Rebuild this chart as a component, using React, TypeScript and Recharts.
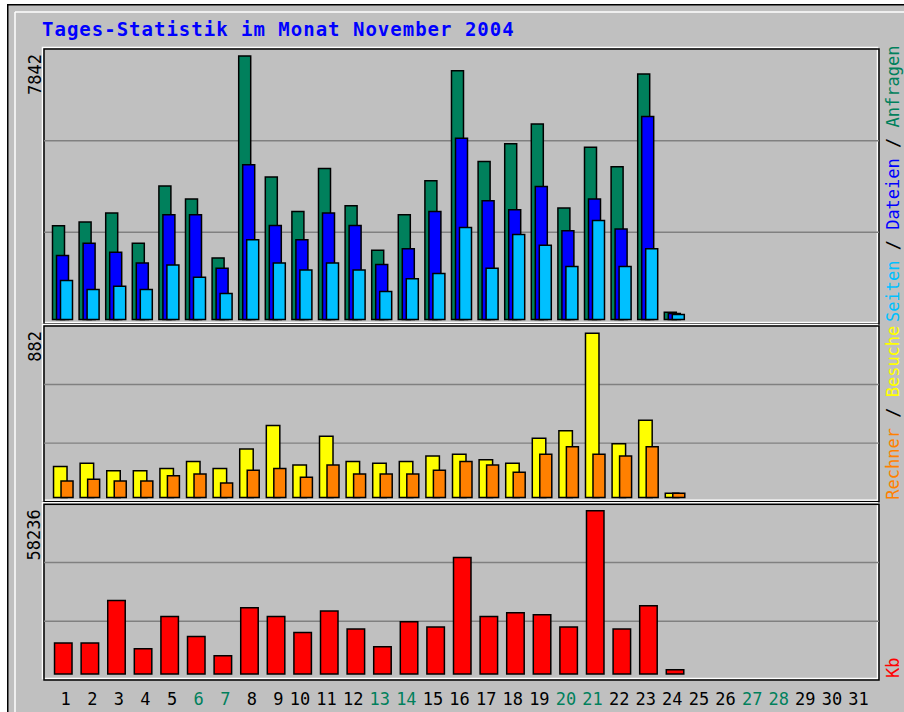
import React from 'react';
import { BarChart, Bar, XAxis, YAxis, CartesianGrid } from 'recharts';

// ---------- data ----------
const days = ['1','2','3','4','5','6','7','8','9','10','11','12','13','14','15','16','17','18','19','20','21','22','23','24','25','26','27','28','29','30','31'];
const weekendDays = ['6','7','13','14','20','21','27','28'];

const anfragen = [2792, 2902, 3169, 2266, 3971, 3585, 1833, 7842, 4238, 3217, 4494, 3386, 2058, 3119, 4128, 7404, 4702, 5227, 5821, 3318, 5129, 4544, 7306, 217];
const dateien = [1901, 2266, 1999, 1684, 3119, 3119, 1524, 4604, 2801, 2376, 3169, 2801, 1634, 2109, 3217, 5396, 3534, 3267, 3959, 2643, 3585, 2694, 6038, 178];
const seiten = [1158, 891, 989, 891, 1625, 1256, 772, 2376, 1684, 1476, 1684, 1476, 832, 1209, 1366, 2741, 1524, 2533, 2207, 1574, 2949, 1574, 2109, 149];
const besuche = [166, 184, 144, 144, 155, 193, 155, 261, 386, 175, 329, 193, 184, 193, 223, 232, 203, 184, 318, 358, 882, 289, 415, 23];
const rechner = [89, 98, 89, 89, 117, 126, 78, 146, 155, 109, 175, 126, 126, 126, 146, 193, 175, 136, 232, 272, 232, 223, 272, 23];
const kb = [11055, 11055, 26246, 9022, 20540, 13408, 6526, 23643, 20540, 14835, 22466, 16047, 9735, 18650, 16760, 41580, 20540, 21860, 21147, 16760, 58236, 16047, 24356, 1533];

const title = 'Tages-Statistik im Monat November 2004';

// ---------- styling / layout config ----------
const C = {
  bg: '#C0C0C0',
  anfragen: '#00805C',
  dateien: '#0000FF',
  seiten: '#00C0FF',
  besuche: '#FFFF00',
  rechner: '#FF8000',
  kb: '#FF0000',
  grid: '#808080',
  title: '#0000FF',
};
const MONO = '"DejaVu Sans Mono", "Liberation Mono", monospace';
const FRAME_L = 44;
const FRAME_W = 835;
const P1 = { top: 49, h: 275, domain: [-134, 8050] };
const P2 = { top: 326, h: 175.7, domain: [-22.6, 921] };
const P3 = { top: 504.3, h: 175.7, domain: [-2033, 60625] };
const X_PAD = { left: 5.5, right: 4.9 };

const table = days.map((d, i) => ({
  day: d,
  anfragen: i < anfragen.length ? anfragen[i] : null,
  dateien: i < dateien.length ? dateien[i] : null,
  seiten: i < seiten.length ? seiten[i] : null,
  besuche: i < besuche.length ? besuche[i] : null,
  rechner: i < rechner.length ? rechner[i] : null,
  kb: i < kb.length ? kb[i] : null,
}));

const max1 = Math.max(...anfragen);
const max2 = Math.max(...besuche);
const max3 = Math.max(...kb);

const thirds = (props: any) => {
  const o = props.offset;
  return [o.top + o.height / 3, o.top + (2 * o.height) / 3];
};

const DayTick = (props: any) => {
  const { x, y, payload } = props;
  const weekend = weekendDays.includes(payload.value);
  return (
    <text
      x={x + 8}
      y={y + 17}
      textAnchor="end"
      fontFamily={MONO}
      fontSize={17}
      fill={weekend ? C.anfragen : '#000'}
    >
      {payload.value}
    </text>
  );
};

const Frame = ({ top, h }: { top: number; h: number }) => (
  <g>
    <rect x={FRAME_L - 1.5} y={top - 1.5} width={FRAME_W} height={h} fill="none" stroke="#FFFFFF" strokeWidth={1.5} />
    <rect x={FRAME_L} y={top} width={FRAME_W} height={h} fill="none" stroke="#000" strokeWidth={1.5} />
  </g>
);

const MaxLabel = ({ top, text }: { top: number; text: string }) => (
  <text
    x={40.5}
    y={top + 5}
    transform={`rotate(-90 40.5 ${top + 5})`}
    textAnchor="end"
    fontFamily={MONO}
    fontSize={17}
    fill="#000"
  >
    {text}
  </text>
);

const barStroke = { stroke: '#000', strokeWidth: 1.5 };

export default function App() {
  return (
    <div style={{ position: 'absolute', left: 0, top: 0, width: 904, height: 712, background: '#fff', overflow: 'hidden' }}>
      <svg width={904} height={712} style={{ position: 'absolute', left: 0, top: 0 }}>
        <rect x={7} y={4} width={900} height={712} fill={C.bg} />
        <line x1={7} y1={4.75} x2={904} y2={4.75} stroke="#000" strokeWidth={1.5} />
        <line x1={7.75} y1={4} x2={7.75} y2={712} stroke="#000" strokeWidth={1.5} />
        <line x1={15} y1={12} x2={904} y2={12} stroke="#fff" strokeWidth={1.5} />
        <line x1={15} y1={12} x2={15} y2={712} stroke="#fff" strokeWidth={1.5} />

        <text x={42} y={36} fontFamily={MONO} fontWeight="bold" fontSize={19} letterSpacing={1} fill={C.title}>
          {title}
        </text>

        <Frame top={P1.top} h={P1.h} />
        <Frame top={P2.top} h={P2.h} />
        <Frame top={P3.top} h={P3.h} />

        <MaxLabel top={P1.top} text={String(max1)} />
        <MaxLabel top={P2.top} text={String(max2)} />
        <MaxLabel top={P3.top} text={String(max3)} />

        <text
          x={899}
          y={P1.top + P1.h - 2}
          transform={`rotate(-90 899 ${P1.top + P1.h - 2})`}
          textAnchor="start"
          fontFamily={MONO}
          fontSize={17}
          style={{ whiteSpace: 'pre' }}
        >
          <tspan fill={C.seiten}>Seiten</tspan>
          <tspan fill="#000">{' / '}</tspan>
          <tspan fill={C.dateien}>Dateien</tspan>
          <tspan fill="#000">{' / '}</tspan>
          <tspan fill={C.anfragen}>Anfragen</tspan>
        </text>
        <text
          x={899}
          y={P2.top + P2.h - 2}
          transform={`rotate(-90 899 ${P2.top + P2.h - 2})`}
          textAnchor="start"
          fontFamily={MONO}
          fontSize={17}
          style={{ whiteSpace: 'pre' }}
        >
          <tspan fill={C.rechner}>Rechner</tspan>
          <tspan fill="#000">{' / '}</tspan>
          <tspan fill={C.besuche}>Besuche</tspan>
        </text>
        <text
          x={899}
          y={P3.top + P3.h - 2}
          transform={`rotate(-90 899 ${P3.top + P3.h - 2})`}
          textAnchor="start"
          fontFamily={MONO}
          fontSize={17}
          fill={C.kb}
        >
          Kb
        </text>
      </svg>

      <div style={{ position: 'absolute', left: FRAME_L, top: P1.top }}>
        <BarChart width={FRAME_W} height={P1.h} data={table} margin={{ top: 0, right: 0, bottom: 0, left: 0 }} barGap={-8}>
          <CartesianGrid vertical={false} stroke={C.grid} strokeWidth={1.5} horizontalCoordinatesGenerator={thirds} />
          <XAxis dataKey="day" hide padding={X_PAD} />
          <YAxis hide domain={P1.domain} allowDataOverflow />
          <Bar dataKey="anfragen" fill={C.anfragen} barSize={12} {...barStroke} isAnimationActive={false} />
          <Bar dataKey="dateien" fill={C.dateien} barSize={12} {...barStroke} isAnimationActive={false} />
          <Bar dataKey="seiten" fill={C.seiten} barSize={12} {...barStroke} isAnimationActive={false} />
        </BarChart>
      </div>

      <div style={{ position: 'absolute', left: FRAME_L, top: P2.top }}>
        <BarChart width={FRAME_W} height={P2.h} data={table} margin={{ top: 0, right: 0, bottom: 0, left: 0 }} barGap={-6}>
          <CartesianGrid vertical={false} stroke={C.grid} strokeWidth={1.5} horizontalCoordinatesGenerator={thirds} />
          <XAxis dataKey="day" hide padding={X_PAD} />
          <YAxis hide domain={P2.domain} allowDataOverflow />
          <Bar dataKey="besuche" fill={C.besuche} barSize={13.5} {...barStroke} isAnimationActive={false} />
          <Bar dataKey="rechner" fill={C.rechner} barSize={12} {...barStroke} isAnimationActive={false} />
        </BarChart>
      </div>

      <div style={{ position: 'absolute', left: FRAME_L, top: P3.top }}>
        <BarChart width={FRAME_W} height={P3.h + 30} data={table} margin={{ top: 0, right: 0, bottom: 0, left: 0 }}>
          <CartesianGrid vertical={false} stroke={C.grid} strokeWidth={1.5} horizontalCoordinatesGenerator={thirds} />
          <XAxis
            dataKey="day"
            padding={X_PAD}
            height={30}
            axisLine={false}
            tickLine={false}
            interval={0}
            tick={<DayTick />}
          />
          <YAxis hide domain={P3.domain} allowDataOverflow />
          <Bar dataKey="kb" fill={C.kb} barSize={17.5} {...barStroke} isAnimationActive={false} />
        </BarChart>
      </div>
    </div>
  );
}
